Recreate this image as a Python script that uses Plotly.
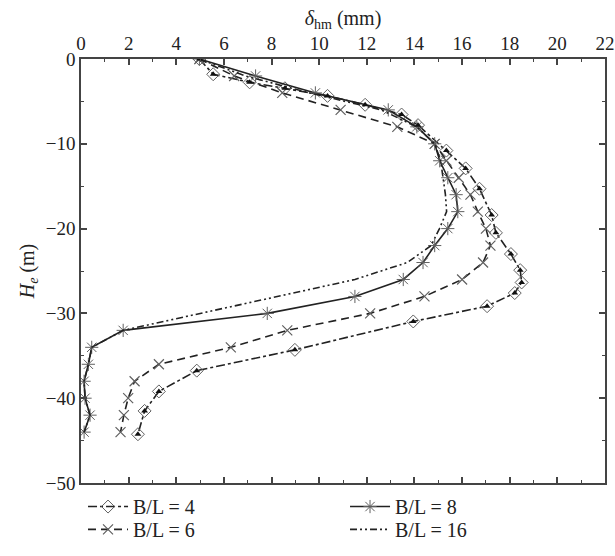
import plotly.graph_objects as go

depth = [0, -2, -4, -6, -8, -10, -12, -14, -16, -18, -20, -22, -24, -26, -28, -30,
         -32, -34, -36, -38, -40, -42, -44]

# B/L = 8 (solid, asterisk)
bl8_x = [4.97, 7.33, 9.84, 12.9, 14.1, 14.85, 15.06, 15.4, 15.75, 15.82, 15.4, 14.85,
         14.36, 13.53, 11.5, 7.82, 1.77, 0.45, 0.31, 0.13, 0.17, 0.38, 0.13]

# B/L = 6 (dashed, x)
bl6_x = [4.97, 6.43, 8.45, 10.9, 13.28, 14.85, 15.34, 15.86, 16.35, 16.66, 17.0, 17.19,
         16.88, 16.0, 14.42, 12.14, 8.66, 6.29, 3.27, 2.25, 1.98, 1.8, 1.66]

# B/L = 16 (dash-dot-dot, no markers)
bl16_x = [4.97, 6.9, 9.6, 12.6, 14.1, 14.85, 15.1, 15.2, 15.3, 15.35, 15.05, 14.7,
          13.7, 11.5, 8.3, 5.0, 1.77, 0.45, 0.31, 0.13, 0.17, 0.38, 0.13]

# B/L = 4 (dash-dot, half-filled diamond)
bl4_x = [4.97, 5.55, 7.08, 8.56, 10.35, 11.93, 13.46, 14.15, 15.34, 16.15, 16.73, 17.24,
         17.42, 18.05, 18.44, 18.5, 18.21, 17.05, 13.95, 8.98, 4.86, 3.27, 2.67, 2.39]
bl4_y = [0, -1.8, -2.75, -3.45, -4.35, -5.4, -6.55, -7.8, -10.8, -12.9, -15.3, -18.4,
         -20.5, -23.0, -24.9, -26.35, -27.6, -29.15, -30.95, -34.3, -36.75, -39.2, -41.5, -44.25]

x_ticks = list(range(0, 23, 2))
y_ticks = [0, -10, -20, -30, -40, -50]

LINE = "#222222"
MARK = "#606060"
FONT = "Liberation Serif, Times New Roman, serif"

fig = go.Figure()

fig.add_trace(go.Scatter(
    x=bl4_x, y=bl4_y, mode="lines+markers", name="B/L = 4", legendgroup="g4", legend="legend",
    line=dict(color=LINE, width=1.6, dash="dashdot"),
    marker=dict(symbol="diamond-open", size=10, color=MARK, line=dict(color=MARK, width=1)),
))
fig.add_trace(go.Scatter(
    x=bl8_x, y=depth, mode="lines+markers", name="B/L = 8", legend="legend",
    line=dict(color=LINE, width=1.6),
    marker=dict(symbol="asterisk-open", size=11, color=MARK, line=dict(color=MARK, width=1)),
))
fig.add_trace(go.Scatter(
    x=bl6_x, y=depth, mode="lines+markers", name="B/L = 6", legend="legend2",
    line=dict(color=LINE, width=1.6, dash="8px,5px"),
    marker=dict(symbol="x-thin-open", size=10, color=MARK, line=dict(color=MARK, width=1.2)),
))
fig.add_trace(go.Scatter(
    x=bl16_x, y=depth, mode="lines", name="B/L = 16", legend="legend2",
    line=dict(color=LINE, width=1.6, dash="7px,3px,2px,3px,2px,3px"),
))
fig.add_trace(go.Scatter(
    x=bl4_x, y=bl4_y, mode="markers", legendgroup="g4", showlegend=False,
    marker=dict(symbol="triangle-up", size=6, color="#111111", line=dict(width=0)),
))

axis_common = dict(
    showline=True, linecolor="#444444", linewidth=1.5, mirror="ticks",
    ticks="inside", ticklen=6, tickwidth=1.5, tickcolor="#444444",
    showgrid=False, zeroline=False, ticklabeloverflow="allow",
    tickfont=dict(family=FONT, size=19, color="#222222"),
)

fig.update_xaxes(
    **axis_common, side="top", range=[0, 22], tickvals=x_ticks,
    minor=dict(dtick=1, ticks="inside", ticklen=3, tickwidth=1.2, tickcolor="#444444"),
    title=dict(text="<i>δ</i><sub>hm</sub> (mm)", font=dict(family=FONT, size=20, color="#222222"),
               standoff=2),
)
fig.update_yaxes(
    **axis_common, range=[-50, 0], tickvals=y_ticks,
    minor=dict(dtick=5, ticks="inside", ticklen=3, tickwidth=1.2, tickcolor="#444444"),
    title=dict(text="<i>H<sub>e</sub></i> (m)", font=dict(family=FONT, size=20, color="#222222"),
               standoff=6),
)

legend_common = dict(
    orientation="h", xref="container", x=0.135, xanchor="left",
    yref="container", yanchor="top",
    entrywidth=207, entrywidthmode="pixels",
    font=dict(family=FONT, size=20, color="#222222"),
    itemwidth=40, bgcolor="rgba(0,0,0,0)",
)

fig.update_layout(
    width=615, height=556,
    margin=dict(l=81, r=10, t=59, b=73, autoexpand=False),
    paper_bgcolor="white", plot_bgcolor="white",
    showlegend=True,
    legend=dict(**legend_common, y=0.124),
    legend2=dict(**legend_common, y=0.083),
)

fig.write_html("out.html")
